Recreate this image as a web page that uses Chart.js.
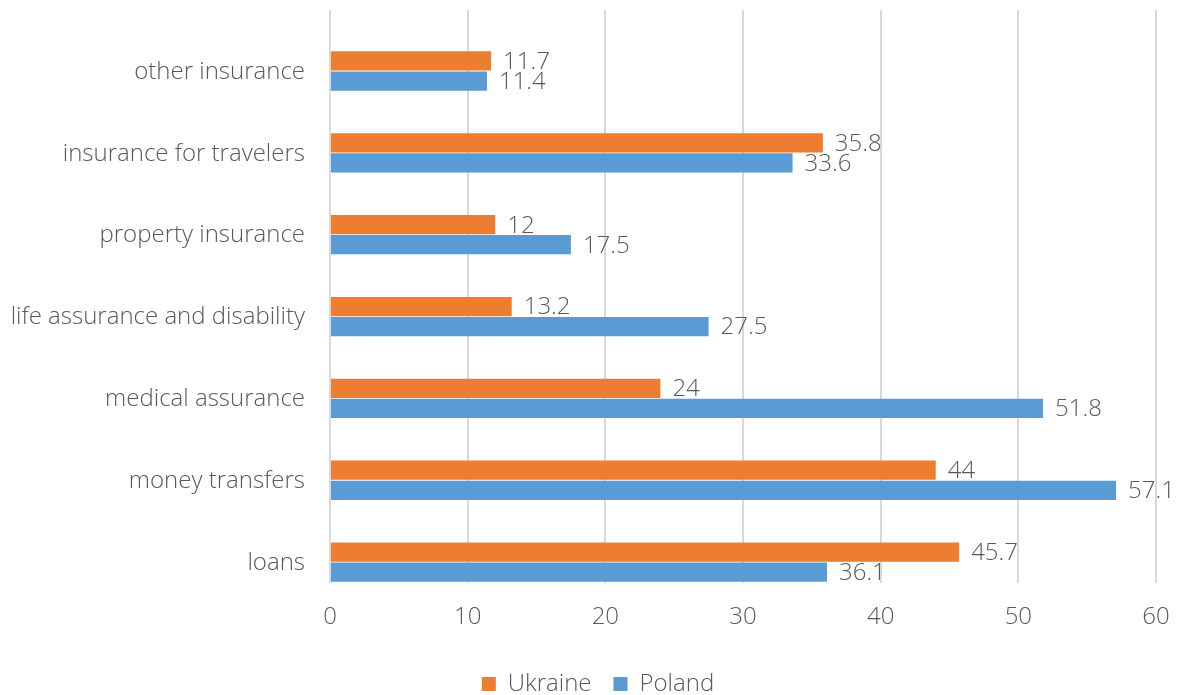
<!DOCTYPE html>
<html>
<head>
<meta charset="utf-8">
<script src="https://cdn.jsdelivr.net/npm/chart.js@4"></script>
<style>
  html, body { margin: 0; padding: 0; background: #fff; }
  #wrap { width: 1185px; height: 695px; }
</style>
</head>
<body>
<div id="wrap"><canvas id="chart"></canvas></div>
<script>
var categories = ['other insurance', 'insurance for travelers', 'property insurance',
    'life assurance and disability', 'medical assurance', 'money transfers', 'loans'];
var ukraine = [11.7, 35.8, 12, 13.2, 24, 44, 45.7];
var poland = [11.4, 33.6, 17.5, 27.5, 51.8, 57.1, 36.1];
var xTicks = [0, 10, 20, 30, 40, 50, 60];

var textColor = '#595959';
var fontFamily = "'Open Sans', 'Segoe UI', sans-serif";
var fontSize = 24;
Chart.defaults.font.family = fontFamily;
Chart.defaults.font.weight = 300;
Chart.defaults.color = textColor;

// the bars sit in the lower half of each band, like the spreadsheet original
var empty = categories.map(function() { return null; });

// value labels next to each bar end
const valueLabels = {
    id: 'valueLabels',
    afterDatasetsDraw(chart) {
        const {ctx} = chart;
        ctx.save();
        ctx.font = '300 ' + fontSize + 'px ' + fontFamily;
        ctx.fillStyle = textColor;
        ctx.textAlign = 'left';
        ctx.textBaseline = 'middle';
        chart.data.datasets.forEach(function(ds, i) {
            if (ds.hidden_empty) return;
            chart.getDatasetMeta(i).data.forEach(function(bar, j) {
                ctx.fillText(String(ds.data[j]), bar.x + 12, bar.y + 1);
            });
        });
        ctx.restore();
    }
};

new Chart(document.getElementById('chart').getContext('2d'), {
    type: 'bar',
    data: {
        labels: categories,
        datasets: [
            {label: '', data: empty, hidden_empty: true},
            {label: '', data: empty, hidden_empty: true},
            {label: 'Ukraine', data: ukraine, backgroundColor: '#ED7D31'},
            {label: 'Poland', data: poland, backgroundColor: '#5B9BD5'}
        ]
    },
    plugins: [valueLabels],
    options: {
        indexAxis: 'y',
        responsive: true,
        maintainAspectRatio: false,
        animation: false,
        datasets: {
            bar: {categoryPercentage: 0.98, barPercentage: 0.96}
        },
        // left padding moves the legend's centre right, as in the original
        layout: {padding: {top: 10, right: 29, left: 40, bottom: 0}},
        scales: {
            x: {
                min: 0,
                max: 60,
                afterBuildTicks: function(scale) {
                    scale.ticks = xTicks.map(function(v) { return {value: v}; });
                },
                afterFit: function(scale) {
                    scale.height = 67;
                    scale.paddingLeft = 0;
                    scale.paddingRight = 0;
                },
                grid: {color: '#d9d9d9', lineWidth: 2, drawTicks: false},
                border: {display: false},
                ticks: {padding: 20, font: {size: fontSize}}
            },
            y: {
                afterFit: function(scale) {
                    scale.width = 290;
                    scale.paddingTop = 0;
                    scale.paddingBottom = 0;
                    // long label runs into the left padding, don't clip it
                    scale._computeLabelArea = function() { return undefined; };
                },
                grid: {display: false, drawTicks: false},
                border: {display: false},
                ticks: {padding: 25, labelOffset: 21, font: {size: fontSize}}
            }
        },
        plugins: {
            legend: {
                position: 'bottom',
                maxHeight: 45,
                labels: {
                    filter: function(item) { return item.text !== ''; },
                    boxWidth: 14,
                    boxHeight: 14,
                    padding: 22,
                    font: {size: fontSize}
                }
            },
            tooltip: {enabled: false}
        }
    }
});
</script>
</body>
</html>
